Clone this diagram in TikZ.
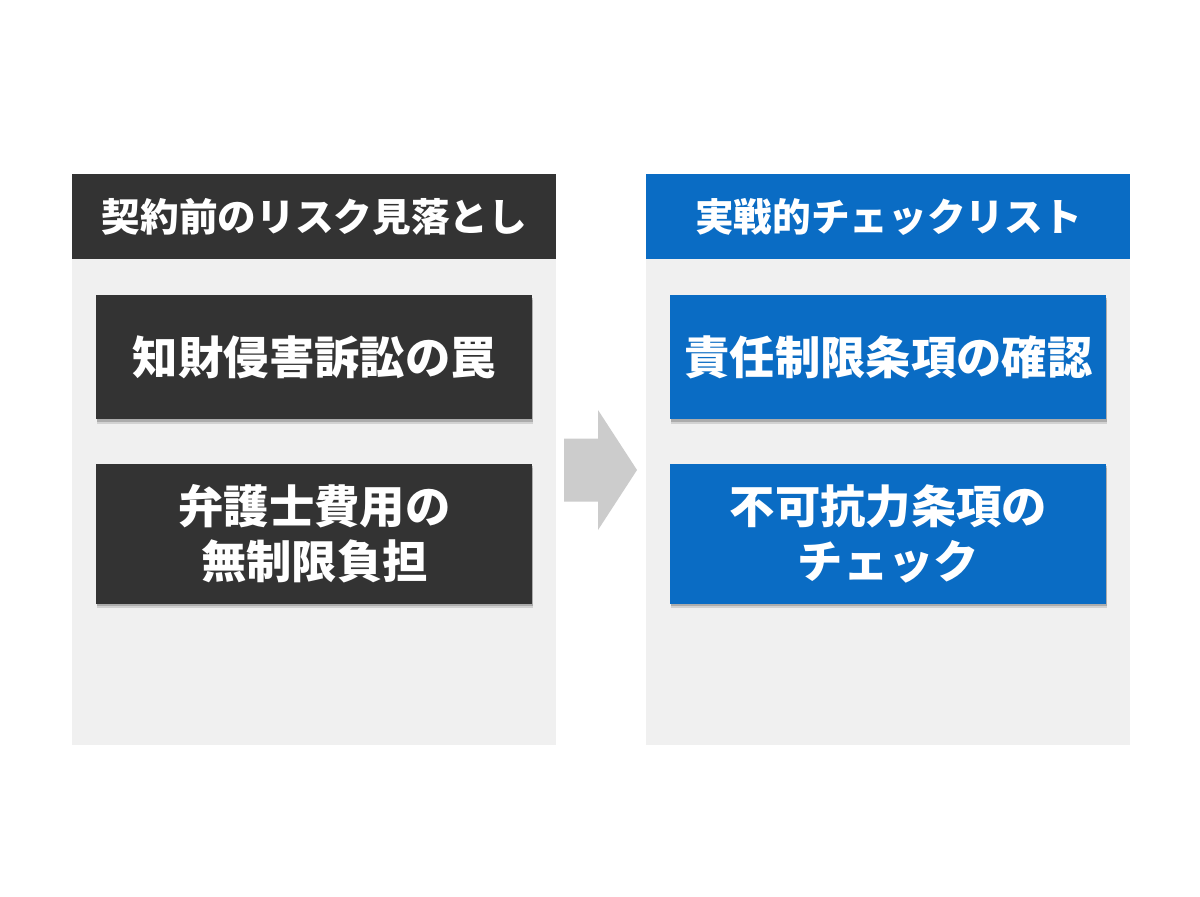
\documentclass[tikz,border=0pt]{standalone}
\usepackage{fontspec}
\newfontfamily\jpfont{Noto Sans CJK JP}
\usepackage{xcolor}
\usetikzlibrary{positioning, shadows}

\definecolor{riskdark}{HTML}{333333}
\definecolor{checkblue}{HTML}{0A6CC4}
\definecolor{panelgray}{HTML}{F0F0F0}
\definecolor{arrowgray}{HTML}{CCCCCC}

\begin{document}
\begin{tikzpicture}[
    panel/.style={rectangle, fill=panelgray, inner sep=0pt, anchor=north west,
                  minimum width=9.68cm, minimum height=11.42cm},
    head/.style={rectangle, inner sep=0pt, anchor=north west, text=white,
                 minimum width=9.68cm, minimum height=1.7cm,
                 font=\jpfont\bfseries\fontsize{22}{26}\selectfont},
    item/.style={rectangle, inner sep=0pt, text=white, align=center,
                 minimum width=8.72cm,
                 font=\jpfont\bfseries\fontsize{25.8}{31.5}\selectfont,
                 drop shadow={shadow xshift=0.01cm, shadow yshift=-0.09cm,
                              opacity=0.12, fill=black},
                 drop shadow={shadow xshift=0.01cm, shadow yshift=-0.05cm,
                              opacity=0.18, fill=black}},
]
    \useasboundingbox[fill=white] (0,0) rectangle (24,-17.92);

    % left column
    \node[panel] (lpanel) at (1.44,-3.48) {};
    \node[head, fill=riskdark] (lhead) at (lpanel.north west) {契約前のリスク見落とし};
    \node[item, fill=riskdark, minimum height=2.48cm, below=0.7cm of lhead] (lone) {知財侵害訴訟の罠};
    \node[item, fill=riskdark, minimum height=2.8cm, below=0.88cm of lone] (ltwo) {弁護士費用の\\無制限負担};

    % right column
    \node[panel] (rpanel) at (12.92,-3.48) {};
    \node[head, fill=checkblue] (rhead) at (rpanel.north west) {実戦的チェックリスト};
    \node[item, fill=checkblue, minimum height=2.48cm, below=0.7cm of rhead] (rone) {責任制限条項の確認};
    \node[item, fill=checkblue, minimum height=2.8cm, below=0.88cm of rone] (rtwo) {不可抗力条項の\\チェック};

    % arrow between the columns
    \coordinate (arr) at (11.28,-9.40);
    \fill[arrowgray] (arr) ++(0,0.63) -- ++(0.68,0) -- ++(0,0.57)
        -- ++(0.78,-1.20) -- ++(-0.78,-1.20) -- ++(0,0.57) -- ++(-0.68,0) -- cycle;
\end{tikzpicture}
\end{document}
